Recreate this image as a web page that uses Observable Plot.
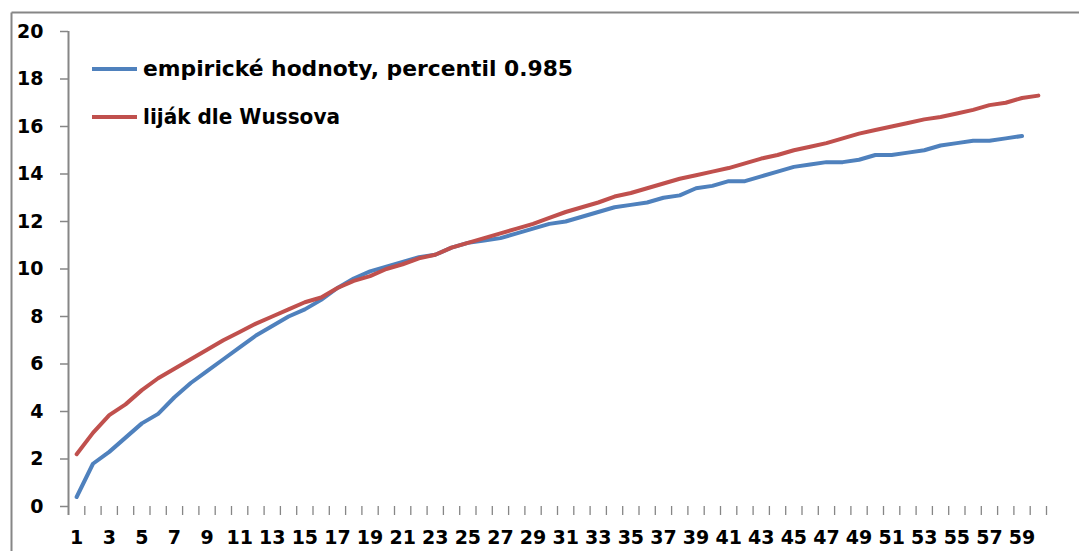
<!DOCTYPE html>
<html>
<head>
<meta charset="utf-8">
<script src="https://cdn.jsdelivr.net/npm/d3@7"></script>
<script src="https://cdn.jsdelivr.net/npm/@observablehq/plot@0.6"></script>
<style>
  html, body { margin: 0; padding: 0; background: #fff; }
  svg { display: block; }
</style>
</head>
<body>
<div id="chart"></div>
<script>
const minutes = d3.range(1, 61);
const empiricke = [0.4, 1.8, 2.3, 2.9, 3.5, 3.9, 4.6, 5.2, 5.7, 6.2,
  6.7, 7.2, 7.6, 8.0, 8.3, 8.7, 9.2, 9.6, 9.9, 10.1,
  10.3, 10.5, 10.6, 10.9, 11.1, 11.2, 11.3, 11.5, 11.7, 11.9,
  12.0, 12.2, 12.4, 12.6, 12.7, 12.8, 13.0, 13.1, 13.4, 13.5,
  13.7, 13.7, 13.9, 14.1, 14.3, 14.4, 14.5, 14.5, 14.6, 14.8,
  14.8, 14.9, 15.0, 15.2, 15.3, 15.4, 15.4, 15.5, 15.6];
const wussov = [2.2, 3.1, 3.85, 4.3, 4.9, 5.4, 5.8, 6.2, 6.6, 7.0,
  7.35, 7.7, 8.0, 8.3, 8.6, 8.8, 9.2, 9.5, 9.7, 10.0,
  10.2, 10.45, 10.6, 10.9, 11.1, 11.3, 11.5, 11.7, 11.9, 12.15,
  12.4, 12.6, 12.8, 13.05, 13.2, 13.4, 13.6, 13.8, 13.95, 14.1,
  14.25, 14.45, 14.65, 14.8, 15.0, 15.15, 15.3, 15.5, 15.7, 15.85,
  16.0, 16.15, 16.3, 16.4, 16.55, 16.7, 16.9, 17.0, 17.2, 17.3];
const seriesNames = ["empirické hodnoty, percentil 0.985", "liják dle Wussova"];
const seriesColors = ["#4F81BD", "#C0504D"];
const yTicks = d3.range(0, 21, 2);
const xLabels = d3.range(1, 60, 2);

const rows = [
  ...empiricke.map((v, i) => ({t: minutes[i], v, s: seriesNames[0]})),
  ...wussov.map((v, i) => ({t: minutes[i], v, s: seriesNames[1]}))
];

const font = "'DejaVu Sans', sans-serif";
const plot = Plot.plot({
  width: 1079,
  height: 551,
  marginLeft: 68,
  marginRight: 33,
  marginTop: 31,
  marginBottom: 45,
  style: {fontFamily: font, background: "#fff", overflow: "visible"},
  x: {type: "linear", domain: [0.5, 60.5]},
  y: {domain: [0, 20]},
  color: {domain: seriesNames, range: seriesColors},
  marks: [
    Plot.ruleX([0.5], {y1: -0.38, y2: 20, stroke: "#868686", strokeWidth: 2}),
    Plot.axisY({ticks: yTicks, tickSize: 8, tickPadding: 17, stroke: "#868686", strokeWidth: 1.5,
      fontSize: 19, fontWeight: "bold", fill: "#000", strokeOpacity: 1, label: null}),
    Plot.axisX({ticks: d3.range(1.5, 61, 1), tickSize: 9, text: null, stroke: "#868686", strokeWidth: 1.3, label: null}),
    Plot.axisX({ticks: xLabels, tickSize: 0, tickPadding: 24, fontSize: 19, fontWeight: "bold", fill: "#000", label: null}),
    Plot.line(rows, {x: "t", y: "v", z: "s", stroke: "s", strokeWidth: 4, strokeLinejoin: "round", strokeLinecap: "round"})
  ]
});
document.getElementById("chart").append(plot);

const svg = d3.select(plot);
// outer frame (top and left edges of the chart area border)
svg.append("line").attr("x1", 11.5).attr("x2", 1079).attr("y1", 12.5).attr("y2", 12.5)
  .attr("stroke", "#868686").attr("stroke-width", 2);
svg.append("line").attr("x1", 11.5).attr("x2", 11.5).attr("y1", 12.5).attr("y2", 551)
  .attr("stroke", "#868686").attr("stroke-width", 2);

// legend
const legendWidths = [430, 197];
const lg = svg.append("g").attr("text-anchor", "start");
seriesNames.forEach((name, i) => {
  const cy = 69 + i * 48;
  lg.append("line").attr("x1", 92).attr("x2", 137).attr("y1", cy).attr("y2", cy)
    .attr("stroke", seriesColors[i]).attr("stroke-width", 4);
  lg.append("text").attr("x", 143).attr("y", cy).attr("dy", "0.35em")
    .attr("text-anchor", "start")
    .attr("font-family", font).attr("font-weight", "bold").attr("font-size", 21)
    .attr("textLength", legendWidths[i]).attr("lengthAdjust", "spacingAndGlyphs")
    .attr("fill", "#000").text(name);
});
</script>
</body>
</html>
